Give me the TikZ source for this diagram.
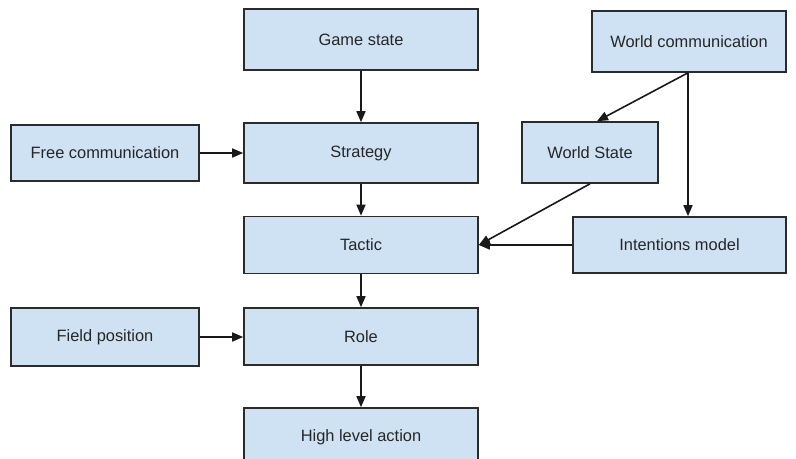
\documentclass[tikz,border=0pt]{standalone}
\usepackage{fontspec}
\setmainfont{Liberation Sans}
\usetikzlibrary{arrows.meta}
\definecolor{boxfill}{HTML}{CFE2F3}
\definecolor{boxline}{HTML}{2B2B2B}
\begin{document}
\begin{tikzpicture}[x=1bp,y=-1bp,
  box/.style={draw=boxline,fill=boxfill,line width=1.6bp,rectangle,inner sep=0pt,
    font=\fontsize{16.4bp}{19bp}\selectfont,text=black!85},
  conn/.style={draw=black!90,line width=1.6bp,-{Triangle[length=11bp,width=9bp]}}]
\clip (0,0) rectangle (796,459);
\fill[white] (0,0) rectangle (796,459);
\node[box,minimum width=234bp,minimum height=61bp] (game) at (361,39.5) {Game state};
\node[box,minimum width=234bp,minimum height=60bp] (strategy) at (361,153) {Strategy};
\node[box,minimum width=234bp,minimum height=57bp] (tactic) at (361,245) {Tactic};
\node[box,minimum width=234bp,minimum height=57bp] (role) at (361,336.5) {Role};
\node[box,minimum width=234bp,minimum height=58bp] (hla) at (361,437) {High level action};
\node[box,minimum width=194bp,minimum height=61bp] (worldcomm) at (689,41.5) {World communication};
\node[box,minimum width=136bp,minimum height=61bp] (worldstate) at (590,152.5) {World State};
\node[box,minimum width=213bp,minimum height=56bp] (intentions) at (679.5,245) {Intentions model};
\node[box,minimum width=188bp,minimum height=56bp] (freecomm) at (105,153) {Free communication};
\node[box,minimum width=188bp,minimum height=58bp] (fieldpos) at (105,337) {Field position};
\draw[conn] (game.south) -- (strategy.north);
\draw[conn] (freecomm.east) -- (strategy.west);
\draw[conn] (strategy.south) -- (tactic.north);
\draw[conn] (tactic.south) -- (role.north);
\draw[conn] (fieldpos.east) -- (fieldpos.east -| role.west);
\draw[conn] (role.south) -- (hla.north);
\draw[conn] ([xshift=-1bp]worldcomm.south) -- ([xshift=7bp]worldstate.north);
\draw[conn] ([xshift=-1bp]worldcomm.south) -- ([xshift=-1bp]worldcomm.south |- intentions.north);
\draw[conn] (worldstate.south) -- (tactic.east);
\draw[conn] (intentions.west) -- (intentions.west -| tactic.east);
\end{tikzpicture}
\end{document}
